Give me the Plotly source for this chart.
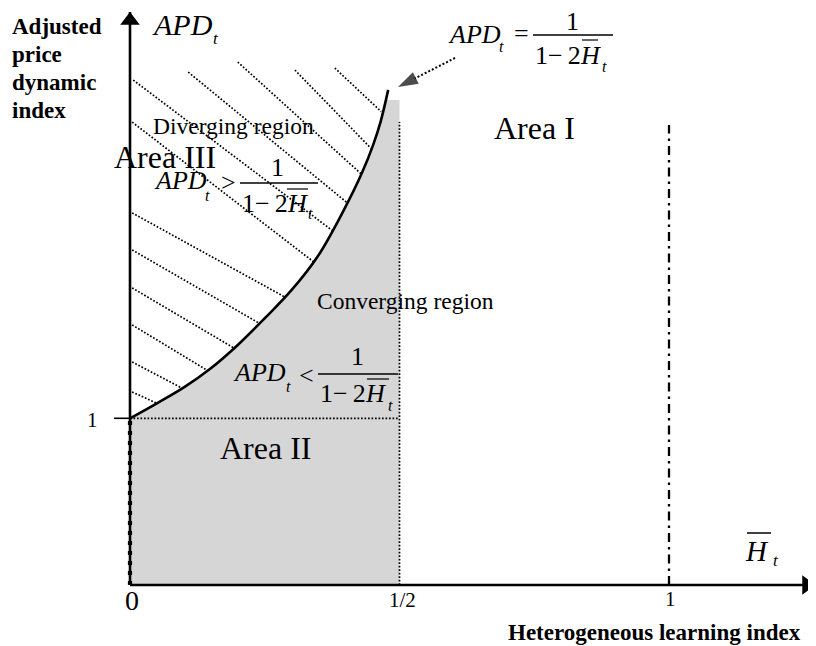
import plotly.graph_objects as go

# ---------------- data ----------------
# boundary curve APD_t = 1/(1-2H_t) (as sketched)
h_curve = [0.0, 0.05, 0.10, 0.15, 0.20, 0.25, 0.30, 0.35, 0.40, 0.43, 0.45, 0.465, 0.479]
apd_curve = [1.0, 1.09, 1.185, 1.30, 1.44, 1.60, 1.77, 1.98, 2.27, 2.47, 2.63, 2.78, 2.97]

# hatch lines of the diverging region (start / end)
hatch_h_start = [0.380, 0.306, 0.200, 0.108, 0.006, 0.004, 0.004, 0.004, 0.004, 0.004, 0.004, 0.004]
hatch_apd_start = [3.101, 3.089, 3.137, 3.077, 3.029, 2.777, 2.232, 2.010, 1.782, 1.560, 1.338, 1.158]
hatch_h_end = [0.466, 0.447, 0.431, 0.404, 0.378, 0.342, 0.286, 0.240, 0.191, 0.142, 0.097, 0.050]
hatch_apd_end = [2.840, 2.620, 2.460, 2.290, 2.120, 1.935, 1.730, 1.570, 1.425, 1.290, 1.180, 1.090]

# converging (grey) block
shade_top = 2.91
shade_top_left_h = 0.4745
half_line = 0.5
half_line_top = 2.777
unit_line = 1.0
unit_line_top = 2.76
apd_one = 1.0

x_tick_vals = [0, 0.5, 1]
x_tick_text = ["0", "1/2", "1"]
y_tick_vals = [1]
y_tick_text = ["1"]

x_axis_end = 1.27
y_axis_end = 3.437

# ---------------- page-pixel -> data helpers (layout only) ----------------
# the figure sits at an 8px offset inside the page
OFF = 8
X0, Y0, SX, SY = 130.0, 585.0, 539.0, 166.7
def X(px):
    return (px - X0) / SX
def Y(py):
    return (Y0 - py) / SY

FONT = "Liberation Serif"
fig = go.Figure()

# grey converging block
n_in = sum(1 for v in apd_curve if v < shade_top)
gx = [0.0] + h_curve[:n_in] + [shade_top_left_h, half_line, half_line, 0.0]
gy = [0.0] + apd_curve[:n_in] + [shade_top, shade_top, 0.0, 0.0]
fig.add_trace(go.Scatter(x=gx, y=gy, mode="lines", fill="toself",
                         fillcolor="#d6d6d6", line=dict(width=0), hoverinfo="skip"))

# hatch lines
hx, hy = [], []
for a, b, c, d in zip(hatch_h_start, hatch_apd_start, hatch_h_end, hatch_apd_end):
    hx += [a, c, None]
    hy += [b, d, None]
fig.add_trace(go.Scatter(x=hx, y=hy, mode="lines",
                         line=dict(color="black", width=1.7, dash="1.7px,1.8px"), hoverinfo="skip"))

# dotted guide lines
fig.add_trace(go.Scatter(x=[0, half_line], y=[apd_one, apd_one], mode="lines",
                         line=dict(color="black", width=1.7, dash="1.7px,1.8px"), hoverinfo="skip"))
fig.add_trace(go.Scatter(x=[half_line, half_line], y=[0, half_line_top], mode="lines",
                         line=dict(color="black", width=1.7, dash="1.7px,1.8px"), hoverinfo="skip"))
# dash-dot line at H = 1
fig.add_trace(go.Scatter(x=[unit_line, unit_line], y=[0, unit_line_top], mode="lines",
                         line=dict(color="black", width=2.3, dash="9px,5px,2.5px,5px"), hoverinfo="skip"))

# boundary curve
fig.add_trace(go.Scatter(x=h_curve, y=apd_curve, mode="lines", line_shape="spline",
                         line=dict(color="black", width=2.6), hoverinfo="skip"))

# axes
fig.add_trace(go.Scatter(x=[0, 0], y=[0, y_axis_end], mode="lines",
                         line=dict(color="black", width=2.6), hoverinfo="skip"))
fig.add_trace(go.Scatter(x=[0, x_axis_end], y=[0, 0], mode="lines",
                         line=dict(color="black", width=2.6), hoverinfo="skip"))
# beaded segment of the vertical axis below 1
fig.add_trace(go.Scatter(x=[0, 0], y=[0, apd_one], mode="lines",
                         line=dict(color="black", width=4.2, dash="4px,6px"), hoverinfo="skip"))
# arrow heads
fig.add_trace(go.Scatter(x=[0], y=[y_axis_end - 8.5 / SY], mode="markers",
                         marker=dict(symbol="triangle-up", size=17, color="black"), hoverinfo="skip"))
fig.add_trace(go.Scatter(x=[x_axis_end - 8.0 / SX], y=[0], mode="markers",
                         marker=dict(symbol="triangle-right", size=17, color="black"), hoverinfo="skip"))

# tick at APD = 1
fig.add_trace(go.Scatter(x=[X(114), 0.003], y=[y_tick_vals[0], y_tick_vals[0]], mode="lines",
                         line=dict(color="black", width=1.6), hoverinfo="skip"))

# dotted pointer to the curve
fig.add_trace(go.Scatter(x=[X(455), X(398)], y=[Y(58), Y(87)], mode="lines+markers",
                         line=dict(color="black", width=2, dash="2px,2px"),
                         marker=dict(symbol="arrow", size=[0, 21], angleref="previous", color="black",
                                     line=dict(width=0)),
                         hoverinfo="skip"))

ann = []
def txt(s, px, py, size, xanchor="center", yanchor="middle", bold=False, align="center"):
    if bold:
        s = "<b>" + s + "</b>"
    ann.append(dict(text=s, x=X(px), y=Y(py), xref="x", yref="y", showarrow=False,
                    xanchor=xanchor, yanchor=yanchor, align=align,
                    font=dict(family=FONT, size=size, color="black")))

shapes = []
def hline(x0, x1, y, w=1.3):
    shapes.append(dict(type="line", xref="x", yref="y", x0=X(x0), x1=X(x1), y0=Y(y), y1=Y(y),
                       line=dict(color="black", width=w)))

APD = "<i>APD</i>"
DEN = "1\u2212\u20092<i>H</i>"
SUB = "<i>t</i>"

# axis titles
for i, word in enumerate(["Adjusted", "price", "dynamic", "index"]):
    txt(word, 10, 26 + 28 * i, 23, xanchor="left", bold=True)
txt("Heterogeneous learning index", 803, 632, 23, xanchor="right", bold=True)
txt(APD, 150, 24, 30, xanchor="left")
txt(SUB, 216, 38, 17)
# H_t axis symbol
txt("<i>H</i>", 743, 551, 29, xanchor="left")
txt(SUB, 776, 560, 17)
hline(747, 771, 533, 1.5)

# tick labels
txt(x_tick_text[0], 132, 600, 28)
txt(x_tick_text[1], 402, 600, 21)
txt(x_tick_text[2], 670, 599, 21)
txt(y_tick_text[0], 92, 420, 21)

# region labels
txt("Area I", 534, 128, 32)
txt("Area II", 265, 448, 32)
txt("Area III", 165, 157, 32)
txt("Diverging region", 233, 126, 23.5)
txt("Converging region", 405, 301, 23.5)

FS = 26
FT = 16
# formula 1 (top right)
txt(APD, 446, 34, FS, xanchor="left")
txt(SUB, 501, 46, FT)
txt("=", 521, 33, FS)
hline(533, 613, 35)
txt("1", 572, 21, FS)
txt(DEN, 533, 55, FS, xanchor="left")
txt(SUB, 604, 66, FT)
hline(582, 598, 40, 1.2)

# formula 2 (diverging)
txt(APD, 152, 180, FS, xanchor="left")
txt(SUB, 207, 195, FT)
txt(">", 228, 182, FS)
hline(240, 318, 183)
txt("1", 277, 167, FS)
txt(DEN, 240, 203, FS, xanchor="left")
txt(SUB, 310, 213, FT)
hline(287, 308, 189, 1.2)

# formula 3 (converging)
txt(APD, 231, 372, FS, xanchor="left")
txt(SUB, 288, 386, FT)
txt("<", 306, 375, FS)
hline(318, 398, 374)
txt("1", 357, 356, FS)
txt(DEN, 318, 393, FS, xanchor="left")
txt(SUB, 390, 405, FT)
hline(367, 389, 379, 1.2)

fig.update_layout(
    width=816 - OFF, height=646 - OFF,
    margin=dict(l=0, r=0, t=0, b=0),
    paper_bgcolor="white", plot_bgcolor="white",
    showlegend=False,
    xaxis=dict(range=[X(OFF), X(816)], visible=False, fixedrange=True),
    yaxis=dict(range=[Y(646), Y(OFF)], visible=False, fixedrange=True),
    annotations=ann, shapes=shapes,
)
fig.write_html("out.html")
